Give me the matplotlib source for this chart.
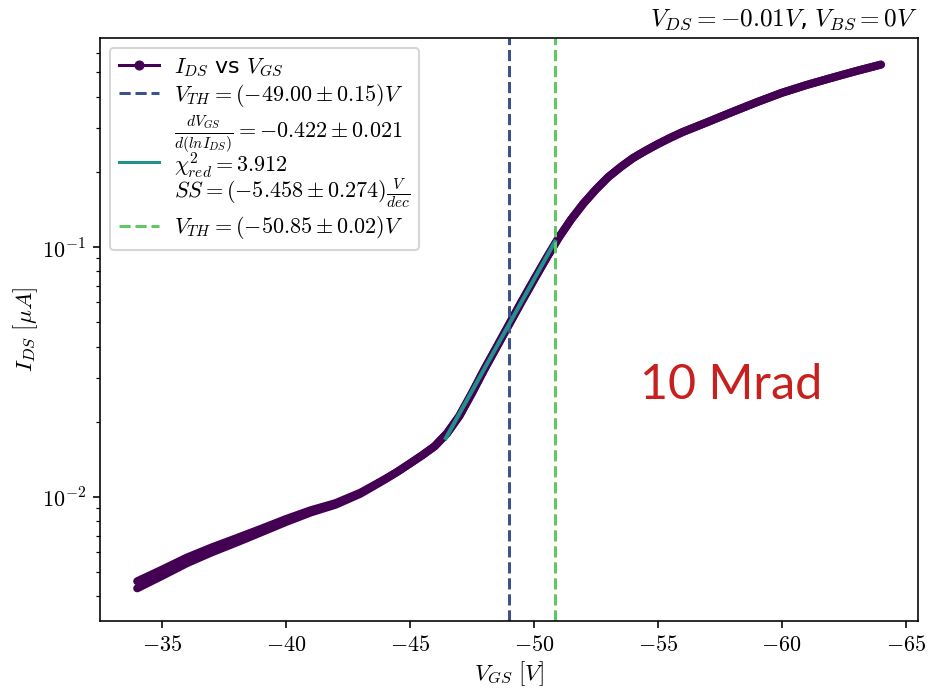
import numpy as np
import matplotlib
matplotlib.use("Agg")
import matplotlib.pyplot as plt
from matplotlib.lines import Line2D
from matplotlib.ticker import FuncFormatter

plt.rcParams["mathtext.fontset"] = "cm"
plt.rcParams["font.size"] = 11

# gate sweep, both directions (uA)
vgs = [-34, -35, -36, -37, -38, -39, -40, -41, -42, -43, -43.5, -44, -44.5,
       -45, -45.5, -46, -46.5, -47, -47.5, -48, -48.5, -49, -49.5, -50,
       -50.5, -51, -51.5, -52, -52.5, -53, -53.5, -54, -54.5, -55, -55.5,
       -56, -57, -58, -59, -60, -61, -62, -63, -64]
ids_up = [0.00460, 0.00512, 0.00572, 0.00628, 0.00684, 0.00746, 0.00816,
          0.00885, 0.00945, 0.01040, 0.01107, 0.01180, 0.01262, 0.01361,
          0.01469, 0.01596, 0.01799, 0.02113, 0.02600, 0.03236, 0.03981,
          0.0490, 0.0603, 0.0738, 0.0900, 0.1089, 0.1288, 0.1493, 0.1698,
          0.1905, 0.2089, 0.2270, 0.2427, 0.2582, 0.2735, 0.2884, 0.316,
          0.347, 0.380, 0.414, 0.445, 0.475, 0.506, 0.537]
ids_down = [0.00431, 0.00483, 0.00543, 0.00600, 0.00657, 0.00722, 0.00794,
            0.00867, 0.00931, 0.01030, 0.01100, 0.01176, 0.01262, 0.01361,
            0.01469, 0.01596, 0.01799, 0.02113, 0.02600, 0.03236, 0.03981,
            0.0490, 0.0603, 0.0738, 0.0900, 0.1089, 0.1288, 0.1493, 0.1698,
            0.1905, 0.2089, 0.2270, 0.2427, 0.2582, 0.2735, 0.2884, 0.316,
            0.347, 0.380, 0.414, 0.445, 0.475, 0.506, 0.537]

# subthreshold fit segment
fit_v = [-46.45, -50.85]
fit_i = [0.0172, 0.105]

vth_1 = -49.00
vth_2 = -50.85

cmap = plt.get_cmap("viridis")
c_data = cmap(0.0)
c_vth1 = cmap(0.25)
c_fit = cmap(0.5)
c_vth2 = cmap(0.75)

fig = plt.figure(figsize=(933 / 145, 689 / 145), dpi=145)
ax = fig.add_axes([0.1072, 0.0987, 0.8768, 0.8461])

for ids in (ids_up, ids_down):
    ax.plot(vgs, ids, color=c_data, lw=4, solid_capstyle="round",
            solid_joinstyle="round")
ax.axvline(vth_1, color=c_vth1, ls="--", lw=1.5)
ax.plot(fit_v, fit_i, color=c_fit, lw=2)
ax.axvline(vth_2, color=c_vth2, ls="--", lw=1.5)

ax.set_yscale("log")
ax.set_ylim(0.00319, 0.686)
ax.invert_xaxis()

ax.xaxis.set_major_formatter(FuncFormatter(lambda v, p: f"${v:g}$"))
ax.yaxis.set_major_formatter(
    FuncFormatter(lambda v, p: f"$10^{{{int(round(np.log10(v)))}}}$"))

ax.set_xlabel(r"$V_{GS}\ [V]$", fontsize=11.5, labelpad=2)
ax.set_ylabel(r"$I_{DS}\ [\mu A]$", fontsize=11.5, labelpad=1)
ax.set_title(r"$V_{DS}=-0.01V$, $V_{BS}=0V$", loc="right", fontsize=12.5)

handles = [
    Line2D([], [], color=c_data, lw=1.5, marker=".", ms=8),
    Line2D([], [], color=c_vth1, ls="--", lw=1.5),
    Line2D([], [], color=c_fit, lw=1.5),
    Line2D([], [], color=c_vth2, ls="--", lw=1.5),
]
labels = [
    r"$I_{DS}$ vs $V_{GS}$",
    r"$V_{TH}=(-49.00\pm0.15)V$",
    r"$\frac{dV_{GS}}{d(lnI_{DS})}=-0.422\pm0.021$" "\n"
    r"$\chi^2_{red}=3.912$" "\n"
    r"$SS=(-5.458\pm0.274)\frac{V}{dec}$",
    r"$V_{TH}=(-50.85\pm0.02)V$",
]
leg = ax.legend(handles, labels, loc="upper left", fontsize=11,
                borderaxespad=0.45, labelspacing=0.15, handlelength=1.8,
                handletextpad=0.7)
for t in leg.get_texts():
    t.set_linespacing(0.85)

ax.text(0.771, 0.405, "10 Mrad", transform=ax.transAxes, ha="center",
        va="center", color="#C8201E", fontsize=24, family="Lato")

fig.savefig("out.png", dpi=145)
